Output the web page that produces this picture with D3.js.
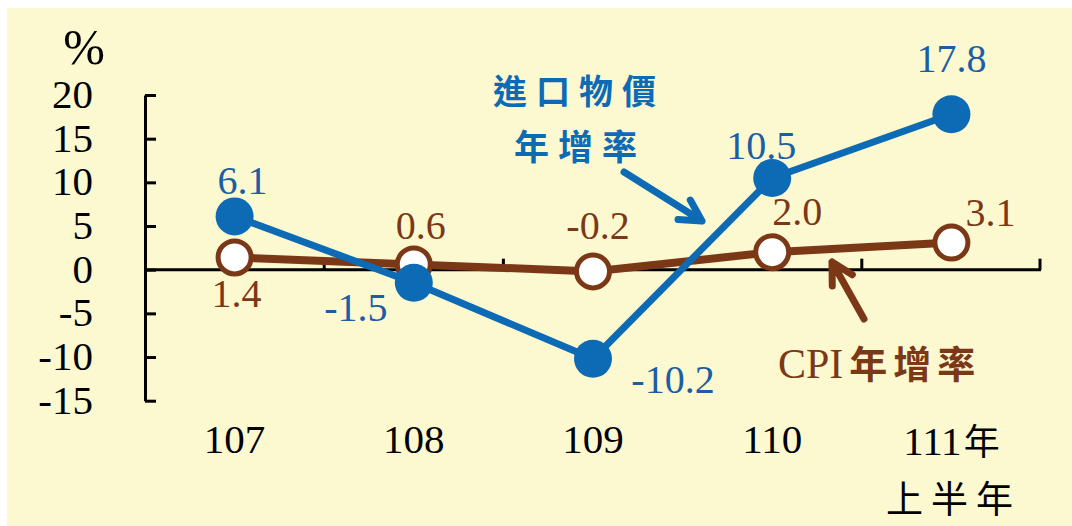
<!DOCTYPE html>
<html>
<head>
<meta charset="utf-8">
<script src="https://cdn.jsdelivr.net/npm/d3@7"></script>
<style>
  body { margin: 0; background: #fff; }
  svg { display: block; }
</style>
</head>
<body>
<div id="chart"></div>
<script>
// data
const categories = ["107", "108", "109", "110", "111"];
const importVals = [6.1, -1.5, -10.2, 10.5, 17.8];
const cpiVals = [1.4, 0.6, -0.2, 2.0, 3.1];
const yTicks = [-15, -10, -5, 0, 5, 10, 15, 20];

const W = 1072, H = 526;
const blue = "#0d6ab5", blueText = "#1b5ea6", brown = "#7b3817";
const numFont = "'Liberation Serif', 'Times New Roman', serif";
const cjkFont = "'Noto Sans CJK TC', 'Noto Sans CJK SC', sans-serif";

const svg = d3.select("#chart").append("svg")
    .attr("width", W)
    .attr("height", H);

svg.append("rect")
    .attr("x", 7).attr("y", 8)
    .attr("width", W - 7).attr("height", H - 8)
    .attr("fill", "#fcf8d0");

const x = d3.scaleBand().domain(categories).range([145, 1041]).padding(0);
const cx = c => x(c) + x.bandwidth() / 2;
const y = d3.scaleLinear().domain([-15, 20]).range([400.7, 95]);

// y axis
const yAxis = svg.append("g")
    .attr("transform", "translate(145,0)")
    .call(d3.axisRight(y).tickValues(yTicks).tickSize(11).tickSizeOuter(0).tickFormat(""));
yAxis.select(".domain").attr("stroke", "#000").attr("stroke-width", 3);
yAxis.selectAll(".tick line").attr("stroke", "#000").attr("stroke-width", 3);

svg.append("g").selectAll("text")
    .data(yTicks)
    .enter().append("text")
    .attr("x", 93)
    .attr("y", d => y(d) + 13)
    .attr("text-anchor", "end")
    .attr("font-family", numFont)
    .attr("font-size", 41)
    .attr("fill", "#000")
    .text(d => d);

svg.append("text")
    .attr("x", 84).attr("y", 64)
    .attr("text-anchor", "middle")
    .attr("font-family", numFont)
    .attr("font-size", 50)
    .text("%");

// x axis at zero
svg.append("line")
    .attr("x1", 145).attr("x2", 1041)
    .attr("y1", y(0)).attr("y2", y(0))
    .attr("stroke", "#000").attr("stroke-width", 3);
const bounds = categories.slice(1).map(c => x(c)).concat([x.range()[1] - 1]);
svg.append("g").selectAll("line")
    .data(bounds)
    .enter().append("line")
    .attr("x1", d => d).attr("x2", d => d)
    .attr("y1", y(0)).attr("y2", y(0) - 11)
    .attr("stroke", "#000").attr("stroke-width", 3);

// category labels
const xLab = svg.append("g")
    .attr("font-family", numFont)
    .attr("font-size", 41)
    .attr("text-anchor", "middle");
categories.forEach((c, i) => {
  if (i < categories.length - 1) {
    xLab.append("text").attr("x", cx(c)).attr("y", 453).text(c);
  } else {
    const t = xLab.append("text").attr("x", cx(c)).attr("y", 455);
    t.append("tspan").text(c);
    t.append("tspan").attr("font-family", cjkFont).attr("font-size", 36).attr("dx", 2).text("年");
    xLab.append("text")
        .attr("x", cx(c) + 2).attr("y", 513)
        .attr("font-family", cjkFont).attr("font-size", 37)
        .attr("letter-spacing", 8)
        .text("上半年");
  }
});

const line = d3.line().x((d, i) => cx(categories[i])).y(d => y(d));

// CPI line
svg.append("path")
    .datum(cpiVals)
    .attr("d", line)
    .attr("fill", "none")
    .attr("stroke", brown)
    .attr("stroke-width", 8);

// import price line
svg.append("path")
    .datum(importVals)
    .attr("d", line)
    .attr("fill", "none")
    .attr("stroke", blue)
    .attr("stroke-width", 7);

// CPI markers (drawn under blue 108 marker as in ref)
svg.append("g").selectAll("circle")
    .data(cpiVals)
    .enter().append("circle")
    .attr("cx", (d, i) => cx(categories[i]))
    .attr("cy", d => y(d))
    .attr("r", 16.5)
    .attr("fill", "#fff")
    .attr("stroke", brown)
    .attr("stroke-width", 5);

svg.append("g").selectAll("circle")
    .data(importVals)
    .enter().append("circle")
    .attr("cx", (d, i) => cx(categories[i]))
    .attr("cy", d => y(d))
    .attr("r", 19)
    .attr("fill", blue);

// value labels
const blueOff = [[8, -22], [-58, 38], [80, 34], [-11, -19], [0, -42]];
const cpiOff = [[2, 50], [7, -25], [5, -32], [25, -27], [39, -17]];

svg.append("g").selectAll("text")
    .data(importVals)
    .enter().append("text")
    .attr("x", (d, i) => cx(categories[i]) + blueOff[i][0])
    .attr("y", (d, i) => y(d) + blueOff[i][1])
    .attr("text-anchor", "middle")
    .attr("font-family", numFont)
    .attr("font-size", 40)
    .attr("fill", blueText)
    .text(d => d.toFixed(1));

svg.append("g").selectAll("text")
    .data(cpiVals)
    .enter().append("text")
    .attr("x", (d, i) => cx(categories[i]) + cpiOff[i][0])
    .attr("y", (d, i) => y(d) + cpiOff[i][1])
    .attr("text-anchor", "middle")
    .attr("font-family", numFont)
    .attr("font-size", 40)
    .attr("fill", brown)
    .text(d => d.toFixed(1));

// annotations
svg.append("text")
    .attr("x", 493).attr("y", 104)
    .attr("font-family", cjkFont).attr("font-weight", "bold")
    .attr("font-size", 34).attr("letter-spacing", 9)
    .attr("fill", blue)
    .text("進口物價");
svg.append("text")
    .attr("x", 514).attr("y", 160)
    .attr("font-family", cjkFont).attr("font-weight", "bold")
    .attr("font-size", 35).attr("letter-spacing", 9)
    .attr("fill", blue)
    .text("年增率");

function arrow(x1, y1, x2, y2, color, w) {
  const a = Math.atan2(y2 - y1, x2 - x1), L = 24, s = 0.5;
  const p1 = [x2 - L * Math.cos(a - s), y2 - L * Math.sin(a - s)];
  const p2 = [x2 - L * Math.cos(a + s), y2 - L * Math.sin(a + s)];
  svg.append("path")
      .attr("d", `M${x1},${y1}L${x2},${y2}M${p1}L${x2},${y2}L${p2}`)
      .attr("fill", "none")
      .attr("stroke", color)
      .attr("stroke-width", w)
      .attr("stroke-linecap", "round")
      .attr("stroke-linejoin", "round");
}
arrow(624, 172, 702, 221, blue, 7);
arrow(864, 319, 832, 262, brown, 7);

const cpiLab = svg.append("text")
    .attr("x", 778).attr("y", 378)
    .attr("font-size", 38)
    .attr("fill", brown);
cpiLab.append("tspan").attr("font-family", numFont).attr("font-size", 42).text("CPI");
cpiLab.append("tspan").attr("font-family", cjkFont).attr("font-weight", "bold")
    .attr("letter-spacing", 6).attr("dx", 6).text("年增率");
</script>
</body>
</html>
